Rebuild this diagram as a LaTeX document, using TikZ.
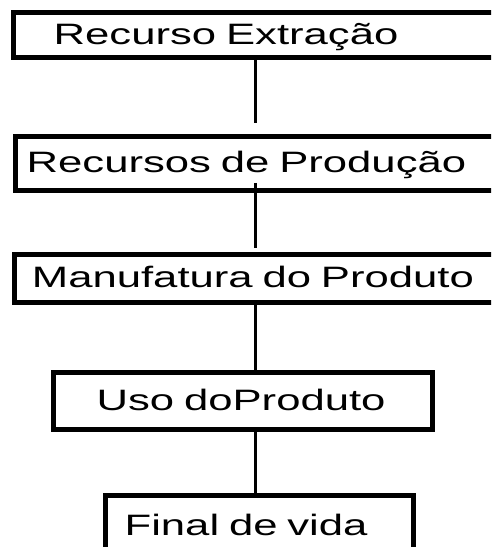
\documentclass[tikz,border=0pt]{standalone}
\usepackage{fontspec}
\usepackage{tikz}
\usetikzlibrary{calc}

\newfontfamily\stagefamily[FakeStretch=1.48]{Liberation Sans}

\tikzset{
    stage/.style={draw, rectangle, line width=4.8pt, outer sep=0pt, inner ysep=0pt,
        anchor=west, align=left, text height=21.5pt, text depth=2.5pt,
        font=\stagefamily\fontsize{29.5pt}{30pt}\selectfont},
    link/.style={draw, line width=3pt}
}

\begin{document}
\begin{tikzpicture}[x=1pt,y=1pt]
            \path[use as bounding box, clip] (0,0) rectangle (491,547);
            \coordinate (spine) at (255,0);
            \begin{scope}[every node/.style={stage}]
                \node[inner xsep=40.3pt, text width=426pt, minimum height=45.2pt] (extracao) at (13.4,512) {Recurso Extração};
                \node[inner xsep=11.3pt, text width=482pt, minimum height=54.2pt] (producao) at (15.4,383.5) {Recursos de Produção};
                \node[inner xsep=17.5pt, text width=470pt, minimum height=48.2pt] (manufatura) at (14.4,268.5) {Manufatura do Produto};
                \node[inner xsep=43.2pt, text width=292.8pt, minimum height=57.2pt] (uso) at (53.4,146) {Uso doProduto};
                % box runs on below the page
                \node[inner xsep=19.2pt, text width=269.8pt, minimum height=80pt,
                      text height=12pt, text depth=12pt] (final) at (105.4,11.6) {Final de vida};
            \end{scope}
            \path [link] (extracao.south -| spine) -- ($(producao.north -| spine)+(0,13.4)$);
            \path [link] ($(producao.south -| spine)+(0,7.6)$) -- ($(manufatura.north -| spine)+(0,6.4)$);
            \path [link] (manufatura.south -| spine) -- (uso.north -| spine);
            \path [link] (uso.south -| spine) -- (final.north -| spine);
        \end{tikzpicture}
\end{document}
